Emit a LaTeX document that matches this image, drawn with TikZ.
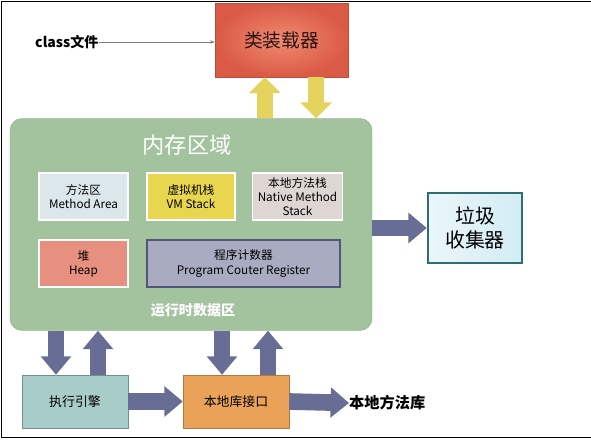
\documentclass[tikz,border=0pt]{standalone}
\usepackage{fontspec}
\setmainfont{Noto Sans CJK SC}
\usepackage{xcolor}
\usetikzlibrary{positioning,calc,arrows.meta}
\definecolor{loaderin}{HTML}{F08A72}
\definecolor{loaderout}{HTML}{DA5A45}
\definecolor{loaderedge}{HTML}{B5503F}
\definecolor{loadertext}{HTML}{2A1410}
\definecolor{memgreen}{HTML}{A3C29E}
\definecolor{methodblue}{HTML}{DCE7EC}
\definecolor{vmyellow}{HTML}{E8D64E}
\definecolor{nativegray}{HTML}{DDD6D2}
\definecolor{heapred}{HTML}{E8907F}
\definecolor{pcslate}{HTML}{A9ACC0}
\definecolor{gcleft}{HTML}{EAF6FA}
\definecolor{gcright}{HTML}{D2ECF4}
\definecolor{gcedge}{HTML}{2E6E70}
\definecolor{execteal}{HTML}{A8CCC8}
\definecolor{liborange}{HTML}{E9A257}
\definecolor{arrowslate}{HTML}{686D95}
\definecolor{arrowyellow}{HTML}{E4D35C}
\tikzset{
	areabox/.style={
			draw=white,
			line width=1.2pt,
			minimum height=1.41cm,
			align=center,
			inner sep=1pt,
			font=\fontsize{10}{12}\selectfont
		},
	fat/.style={
			draw=arrowslate,
			line width=0.5cm,
			-{Triangle[length=0.55cm,width=0.88cm]}
		},
	fatyellow/.style={
			draw=arrowyellow,
			line width=0.48cm,
			-{Triangle[length=0.48cm,width=0.93cm]}
		}
}

\begin{document}
\begin{tikzpicture}[x=0.03cm,y=-0.03cm]
		\useasboundingbox (0,0) rectangle (591,441);
		\draw[line width=0.8pt] (591,1) -- (1,1) -- (1,437) -- (591,437);

		% Class loader
		\node[draw=loaderedge,
			inner color=loaderin,
			outer color=loaderout,
			text=loadertext,
			minimum width=3.99cm,
			minimum height=2.22cm,
			font=\fontsize{16}{18}\selectfont
		] (loader) at (281.5,40) {类装载器};

		\node[anchor=west,
			font=\fontsize{12}{14}\selectfont\bfseries,
			inner sep=0pt
		] (cls) at (35,42) {class文件};

		\draw[-{Stealth[length=4pt]}, gray] (cls.east) -- (loader.west |- cls);

		% Memory area
		\node[draw=memgreen!90!black,
			fill=memgreen,
			rounded corners=0.36cm,
			minimum width=10.86cm,
			minimum height=6.36cm
		] (mem) at (191,224.5) {};

		\node[text=white,
			font=\fontsize{19}{21}\selectfont
		] (memtitle) at (187,145) {内存区域};

		\node[areabox, fill=methodblue, minimum width=2.67cm] (method) at (83.5,196.5) {方法区\\Method Area};
		\node[areabox, fill=vmyellow, minimum width=2.64cm] (vm) at (191,196.5) {虚拟机栈\\VM Stack};
		\node[areabox, fill=nativegray, minimum width=2.7cm] (nstack) at (297.5,196.5) {本地方法栈\\Native Method\\Stack};
		\node[areabox, fill=heapred, minimum width=2.67cm] (heap) at (83.5,263.5) {堆\\Heap};
		\node[areabox, draw=arrowslate!80!black, fill=pcslate, minimum width=5.79cm] (pc) at (243.5,263.5) {程序计数器\\Program Couter Register};

		\node[text=white,
			font=\fontsize{12}{14}\selectfont\bfseries
		] (runtime) at (193,310) {运行时数据区};

		% Garbage collector
		\node[draw=gcedge,
			line width=2pt,
			left color=gcleft,
			right color=gcright,
			minimum width=2.82cm,
			minimum height=2.1cm,
			align=center,
			font=\fontsize{17}{21}\selectfont
		] (gc) at (475,228) {垃圾\\收集器};

		% Engine and native interface
		\node[draw=execteal!70!black,
			fill=execteal,
			minimum width=3.18cm,
			minimum height=1.59cm,
			font=\fontsize{11}{13}\selectfont
		] (exec) at (75,401.5) {执行引擎};

		\node[draw=liborange!75!black,
			fill=liborange,
			minimum width=3.18cm,
			minimum height=1.59cm,
			font=\fontsize{11}{13}\selectfont
		] (nlib) at (236,401.5) {本地库接口};

		\node[anchor=west,
			font=\fontsize{13}{15}\selectfont\bfseries,
			inner sep=0pt
		] (nmlib) at (349,403) {本地方法库};

		% Fat arrows
		\draw[fatyellow] ($(loader.south |- mem.north)+(-0.5cm,0)$) -- ($(loader.south)+(-0.5cm,0)$);
		\draw[fatyellow] ($(loader.south)+(1.04cm,0)$) -- ($(loader.south |- mem.north)+(1.04cm,0)$);

		\draw[fat] (mem.east |- gc.west) -- (gc.west);

		\draw[fat] ($(exec.north |- mem.south)+(-0.57cm,0)$) -- ($(exec.north)+(-0.57cm,0)$);
		\draw[fat] ($(exec.north)+(0.69cm,0)$) -- ($(exec.north |- mem.south)+(0.69cm,0)$);
		\draw[fat] ($(nlib.north |- mem.south)+(-0.42cm,0)$) -- ($(nlib.north)+(-0.42cm,0)$);
		\draw[fat] ($(nlib.north)+(0.96cm,0)$) -- ($(nlib.north |- mem.south)+(0.96cm,0)$);

		\draw[fat] (exec.east) -- (nlib.west);
		\draw[fat] (nlib.east) -- (nmlib.west);
	\end{tikzpicture}
\end{document}
